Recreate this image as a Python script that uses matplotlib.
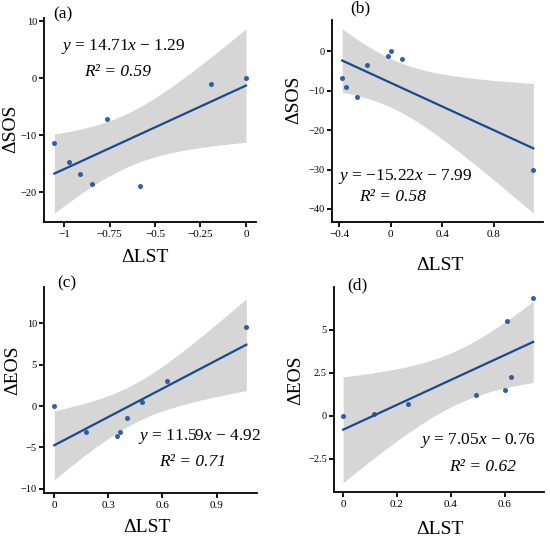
#!/usr/bin/env python

import matplotlib
matplotlib.use('Agg')
import matplotlib.pyplot as plt
import numpy as np

matplotlib.rcParams.update({
    'font.family': 'Liberation Serif',
    'mathtext.fontset': 'custom',
    'mathtext.rm': 'Liberation Serif',
    'mathtext.it': 'Liberation Serif:italic',
    'axes.linewidth': 1.3,
    'xtick.major.width': 1.3,
    'ytick.major.width': 1.3,
    'xtick.major.size': 3.5,
    'ytick.major.size': 3.5,
    'xtick.labelsize': 8,
    'ytick.labelsize': 7.5,
})

W, H = 550, 541

# values
lst_a = [-1.053, -0.971, -0.912, -0.848, -0.765, -0.581, -0.194, 0.0]
sos_a = [-11.3, -14.6, -16.7, -18.5, -7.2, -18.8, -1.05, 0.0]

lst_b = [-0.377, -0.346, -0.259, -0.188, -0.023, 0.002, 0.089, 1.105]
sos_b = [-6.7, -9.1, -11.6, -3.55, -1.27, 0.0, -2.1, -30.0]

lst_c = [0.0, 0.177, 0.348, 0.366, 0.403, 0.487, 0.623, 1.065]
eos_c = [0.0, -3.15, -3.63, -3.15, -1.41, 0.44, 3.06, 9.6]

lst_d = [0.0, 0.114, 0.241, 0.493, 0.601, 0.607, 0.622, 0.706]
eos_d = [0.0, 0.1, 0.68, 1.2, 1.51, 5.5, 2.25, 6.86]

eq_a, r2_a = '$y$ = 14.71$x$ \u2212 1.29', 'R\u00b2 = 0.59'
eq_b, r2_b = '$y$ = \u221215.22$x$ \u2212 7.99', 'R\u00b2 = 0.58'
eq_c, r2_c = '$y$ = 11.59$x$ \u2212 4.92', 'R\u00b2 = 0.71'
eq_d, r2_d = '$y$ = 7.05$x$ \u2212 0.76', 'R\u00b2 = 0.62'

T95 = 2.447  # t(0.975, df=6)

def px(x, y):
    return x / W, 1 - y / H

def axes_px(fig, l, t, r, b):
    return fig.add_axes([l / W, 1 - b / H, (r - l) / W, (b - t) / H])

def regpanel(ax, x, y, xlim, ylim, xticks, yticks):
    x = np.asarray(x); y = np.asarray(y)
    k, c = np.polyfit(x, y, 1)
    n = len(x)
    res = y - (k * x + c)
    s = np.sqrt(np.sum(res ** 2) / (n - 2))
    xg = np.linspace(x.min(), x.max(), 200)
    yg = k * xg + c
    se = s * np.sqrt(1.0 / n + (xg - x.mean()) ** 2 / np.sum((x - x.mean()) ** 2))
    ax.fill_between(xg, yg - T95 * se, yg + T95 * se, color='#d6d6d6', lw=0, zorder=1)
    ax.plot(xg, yg, color='#174a92', lw=1.6, zorder=2)
    ax.scatter(x, y, s=13, color='#1f4f9a', alpha=0.9, lw=0, zorder=3)
    ax.set_xlim(xlim); ax.set_ylim(ylim)
    ax.set_xticks(xticks); ax.set_yticks(yticks)
    ax.spines['top'].set_visible(False)
    ax.spines['right'].set_visible(False)
    ax.tick_params(axis='x', pad=2)
    ax.tick_params(axis='y', pad=1.5)

def main():
    fig = plt.figure(figsize=(W / 100, H / 100), dpi=100)

    ax = axes_px(fig, 44, 18, 256, 222)
    regpanel(ax, lst_a, sos_a, (-1.11, 0.055), (-25.2, 10.6),
             [-1, -0.75, -0.5, -0.25, 0], [10, 0, -10, -20])
    ax.set_xticklabels(['\u22121', '\u22120.75', '\u22120.5', '\u22120.25', '0'])

    ax = axes_px(fig, 332, 20, 543, 222)
    regpanel(ax, lst_b, sos_b, (-0.456, 1.18), (-43.3, 7.9),
             [-0.4, 0, 0.4, 0.8], [0, -10, -20, -30, -40])
    ax.set_xticklabels(['\u22120.4', '0', '0.4', '0.8'])

    ax = axes_px(fig, 44, 287, 257, 493)
    regpanel(ax, lst_c, eos_c, (-0.057, 1.124), (-10.5, 14.4),
             [0, 0.3, 0.6, 0.9], [10, 5, 0, -5, -10])
    ax.set_xticklabels(['0', '0.3', '0.6', '0.9'])

    ax = axes_px(fig, 334, 287, 544, 492)
    regpanel(ax, lst_d, eos_d, (-0.034, 0.746), (-4.42, 7.5),
             [0, 0.2, 0.4, 0.6], [5, 2.5, 0, -2.5])
    ax.set_xticklabels(['0', '0.2', '0.4', '0.6'])
    ax.set_yticklabels(['5', '2.5', '0', '\u22122.5'])

    # panel letters, equations, axis labels
    big = 14
    mid = 12.5
    for lab, x, y in [('(a)', 63, 14), ('(b)', 360, 8), ('(c)', 67, 283), ('(d)', 357, 285)]:
        fig.text(*px(x, y), lab, fontsize=mid, ha='center', va='center')
    for eq, r2, ex, ey, rx, ry in [(eq_a, r2_a, 123, 47, 118, 72),
                                   (eq_b, r2_b, 405, 176, 393, 197),
                                   (eq_c, r2_c, 200, 436, 193, 462),
                                   (eq_d, r2_d, 478, 441, 483, 467)]:
        fig.text(*px(ex, ey), eq, fontsize=mid, ha='center', va='center')
        fig.text(*px(rx, ry), r2, fontsize=mid, style='italic', ha='center', va='center')
    for x, y in [(145, 258), (440, 265), (147, 527), (440, 530)]:
        fig.text(*px(x, y), '\u0394LST', fontsize=big, ha='center', va='center')
    for lab, x, y in [('\u0394SOS', 11, 129), ('\u0394SOS', 294, 100),
                      ('\u0394EOS', 13, 370), ('\u0394EOS', 296, 380)]:
        fig.text(*px(x, y), lab, fontsize=big, rotation=90, ha='center', va='center')

    fig.savefig('out.png', dpi=100)

if __name__ == "__main__":
    main()
